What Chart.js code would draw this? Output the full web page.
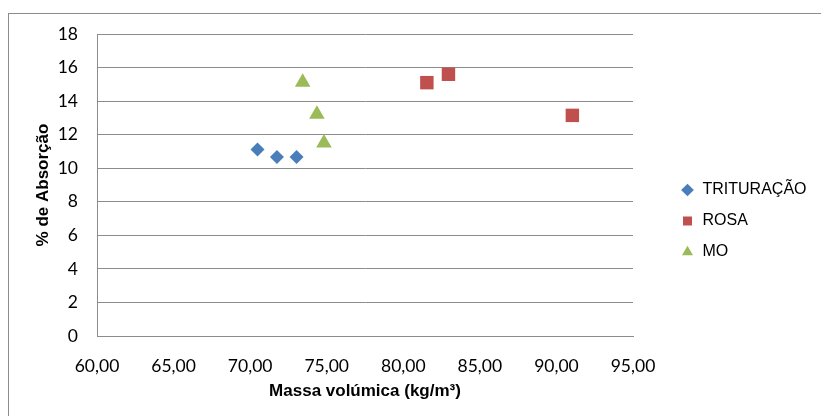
<!DOCTYPE html>
<html>
<head>
    <meta charset="UTF-8">
    <title>Absorção vs Massa volúmica</title>
    <script src="https://cdn.jsdelivr.net/npm/chart.js"></script>
    <style>
        body {
            margin: 0;
            background: #ffffff;
        }

        .chart-container {
            position: relative;
            width: 821px;
            height: 416px;
            overflow: hidden;
        }

        .frame {
            position: absolute;
            left: 8px;
            top: 13px;
            width: 900px;
            height: 500px;
            border-top: 1px solid #8c8c8c;
            border-left: 1px solid #8c8c8c;
        }

        #absChart {
            position: absolute;
            left: 0;
            top: 0;
        }
    </style>
</head>
<body>
<div class="chart-container">
    <div class="frame"></div>
    <canvas id="absChart" width="821" height="416"></canvas>
</div>

<script>
    // valores
    const seriesNames = ['TRITURAÇÃO', 'ROSA', 'MO'];

    const trituracaoX = [70.48, 71.75, 73.03];
    const trituracaoY = [11.11, 10.67, 10.67];

    const rosaX = [81.54, 82.95, 91.04];
    const rosaY = [15.10, 15.60, 13.15];

    const moX = [73.43, 74.36, 74.82];
    const moY = [15.12, 13.21, 11.51];

    const xTickLabels = ['60,00', '65,00', '70,00', '75,00', '80,00', '85,00', '90,00', '95,00'];
    const yTickLabels = ['0', '2', '4', '6', '8', '10', '12', '14', '16', '18'];

    const toPoints = (xs, ys) => xs.map((x, i) => ({ x: x, y: ys[i] }));

    const gridColor = '#8c8c8c';

    // legenda à direita, como no Excel
    const legendTweak = {
        id: 'legendTweak',
        beforeLayout(chart) {
            const lg = chart.legend;
            if (lg && !lg._patched) {
                const fit = lg.fit;
                lg.fit = function () {
                    fit.call(this);
                    this.width = 188;
                };
                lg._patched = true;
            }
        },
        afterUpdate(chart) {
            const lg = chart.legend;
            lg.left += 32.5;
            lg.right += 32.5;
            lg.top -= 4;
            lg.bottom -= 4;
        }
    };

    const ctx = document.getElementById('absChart').getContext('2d');
    new Chart(ctx, {
        type: 'scatter',
        data: {
            datasets: [
                {
                    label: seriesNames[0],
                    data: toPoints(trituracaoX, trituracaoY),
                    pointStyle: 'rectRot',
                    pointRadius: 7,
                    pointHoverRadius: 7,
                    backgroundColor: '#4a7ebb',
                    borderColor: '#4a7ebb',
                    borderWidth: 0
                },
                {
                    label: seriesNames[1],
                    data: toPoints(rosaX, rosaY),
                    pointStyle: 'rect',
                    pointRadius: 9.5,
                    pointHoverRadius: 9.5,
                    backgroundColor: '#c0504d',
                    borderColor: '#c0504d',
                    borderWidth: 0
                },
                {
                    label: seriesNames[2],
                    data: toPoints(moX, moY),
                    pointStyle: 'triangle',
                    pointRadius: 9,
                    pointHoverRadius: 9,
                    backgroundColor: '#9bbb59',
                    borderColor: '#9bbb59',
                    borderWidth: 0
                }
            ]
        },
        options: {
            responsive: false,
            animation: false,
            layout: {
                padding: { top: 34, left: 0, right: 0, bottom: 0 }
            },
            scales: {
                x: {
                    type: 'linear',
                    min: 60,
                    max: 95,
                    afterFit(scale) { scale.height = 80; },
                    ticks: {
                        stepSize: 5,
                        padding: 20,
                        color: '#000000',
                        font: { family: 'Lato', size: 17.5 },
                        callback: (value, index) => xTickLabels[index]
                    },
                    grid: { display: false, drawTicks: false },
                    border: { display: true, color: gridColor, width: 1 },
                    title: {
                        display: true,
                        text: 'Massa volúmica (kg/m³)',
                        color: '#000000',
                        font: { family: 'Liberation Sans', size: 17, weight: 'bold' },
                        padding: { top: 0, bottom: 14 }
                    }
                },
                y: {
                    type: 'linear',
                    min: 0,
                    max: 18,
                    afterFit(scale) { scale.width = 97; },
                    ticks: {
                        stepSize: 2,
                        padding: 19,
                        color: '#000000',
                        font: { family: 'Lato', size: 17.5 },
                        callback: (value, index) => yTickLabels[index]
                    },
                    grid: { color: gridColor, lineWidth: 1, drawTicks: false },
                    border: { display: true, color: gridColor, width: 1 },
                    title: {
                        display: true,
                        text: '% de Absorção',
                        color: '#000000',
                        font: { family: 'Liberation Sans', size: 17, weight: 'bold' },
                        padding: { top: 33, bottom: 0 }
                    }
                }
            },
            plugins: {
                legend: {
                    position: 'right',
                    labels: {
                        usePointStyle: true,
                        boxWidth: 14,
                        boxHeight: 9,
                        padding: 15,
                        color: '#000000',
                        font: { family: 'Liberation Sans', size: 16 }
                    }
                },
                tooltip: { enabled: false }
            }
        },
        plugins: [legendTweak]
    });
</script>
</body>
</html>
